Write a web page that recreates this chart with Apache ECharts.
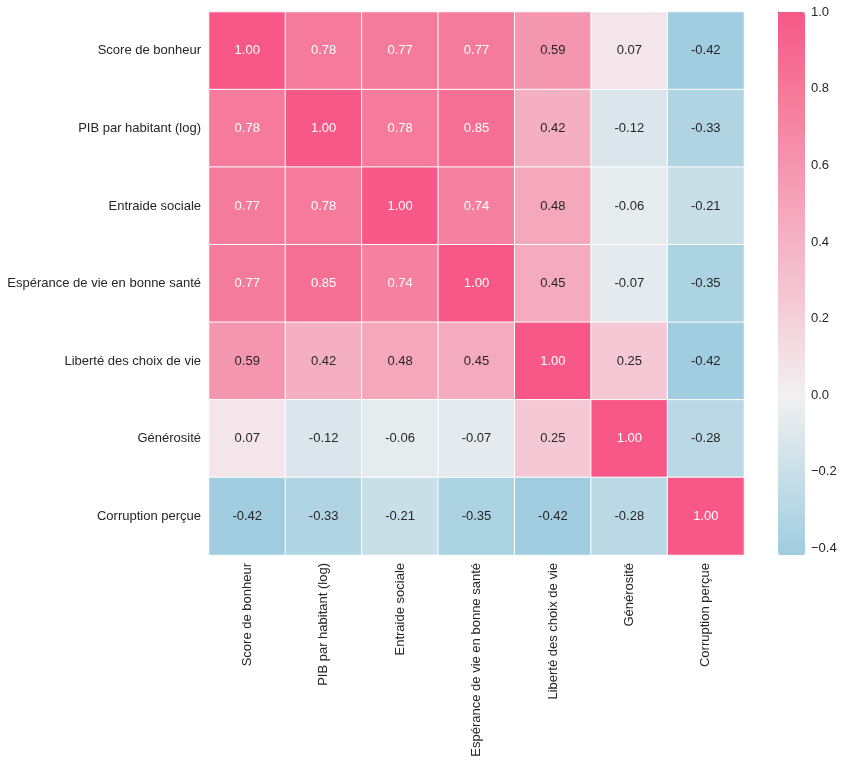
<!DOCTYPE html>
<html><head><meta charset="utf-8">
<script src="https://cdn.jsdelivr.net/npm/echarts@6/dist/echarts.min.js"></script>
<style>html,body{margin:0;padding:0;background:#fff}#c{width:844px;height:763px}</style>
</head><body><div id="c"></div>
<script>
const labels = ["Score de bonheur","PIB par habitant (log)","Entraide sociale","Espérance de vie en bonne santé","Liberté des choix de vie","Générosité","Corruption perçue"];
const rowScore = [1.00,0.78,0.77,0.77,0.59,0.07,-0.42];
const rowPIB = [0.78,1.00,0.78,0.85,0.42,-0.12,-0.33];
const rowEntraide = [0.77,0.78,1.00,0.74,0.48,-0.06,-0.21];
const rowEsperance = [0.77,0.85,0.74,1.00,0.45,-0.07,-0.35];
const rowLiberte = [0.59,0.42,0.48,0.45,1.00,0.25,-0.42];
const rowGenerosite = [0.07,-0.12,-0.06,-0.07,0.25,1.00,-0.28];
const rowCorruption = [-0.42,-0.33,-0.21,-0.35,-0.42,-0.28,1.00];
const colorbarTicks = [-0.4,-0.2,0.0,0.2,0.4,0.6,0.8,1.0];
const vmin = -0.417, vmax = 1.0;

const rows = [rowScore,rowPIB,rowEntraide,rowEsperance,rowLiberte,rowGenerosite,rowCorruption];

// colour anchors (value -> rgb)
const anchors = [[-0.42,[159,205,223]],[-0.21,[200,223,232]],[0,[242,240,241]],[0.25,[244,200,212]],[0.5,[245,164,186]],[0.78,[245,122,155]],[1.0,[247,88,135]]];
function colAt(v){
  for(let i=0;i<anchors.length-1;i++){
    const [a,ca]=anchors[i],[b,cb]=anchors[i+1];
    if(v<=b||i===anchors.length-2){
      let t=(v-a)/(b-a); t=Math.max(0,Math.min(1,t));
      const c=ca.map((x,k)=>Math.round(x+(cb[k]-x)*t));
      return 'rgb('+c.join(',')+')';
    }
  }
}
const stops=[];const N=120;
for(let i=0;i<=N;i++){stops.push(colAt(vmin+(vmax-vmin)*i/N));}

const data=[];
rows.forEach((r,yi)=>r.forEach((v,xi)=>{
  data.push({value:[xi,yi,v],label:{color:v>0.65?'#ffffff':'#262626'}});
}));

const chart = echarts.init(document.getElementById('c'));
const font = 'Liberation Sans, Arial, sans-serif';
chart.setOption({
  animation:false,
  backgroundColor:'#fff',
  grid:[{left:209,top:12,width:535,height:543},{left:778,top:12,width:27,height:543}],
  xAxis:[{type:'category',data:labels,gridIndex:0,
    axisLine:{show:false},axisTick:{show:false},
    axisLabel:{rotate:90,fontSize:13,color:'#262626',fontFamily:font,margin:8},splitLine:{show:false}},
    {type:'value',gridIndex:1,show:false,min:0,max:1}],
  yAxis:[{type:'category',data:labels,inverse:true,gridIndex:0,
    axisLine:{show:false},axisTick:{show:false},
    axisLabel:{fontSize:13,color:'#262626',fontFamily:font,margin:8},splitLine:{show:false}},
    {type:'value',gridIndex:1,position:'right',min:vmin,max:vmax,
     axisLine:{show:false},splitLine:{show:false},
     axisTick:{show:true,length:4,customValues:colorbarTicks,lineStyle:{color:'#262626'}},
     axisLabel:{fontSize:13,color:'#262626',fontFamily:font,margin:6,customValues:colorbarTicks,
       formatter:v=>(v<0?'\u2212':'')+Math.abs(v).toFixed(1)}}],
  visualMap:{type:'continuous',min:vmin,max:vmax,seriesIndex:0,calculable:false,show:true,
    left:778,top:12,itemWidth:27,itemHeight:543,padding:0,text:null,showLabel:false,
    hoverLink:false,inRange:{color:stops}},
  series:[{type:'heatmap',xAxisIndex:0,yAxisIndex:0,data:data,
    itemStyle:{borderColor:'#ffffff',borderWidth:1},
    label:{show:true,fontSize:13,fontFamily:font,formatter:p=>p.value[2].toFixed(2)},
    emphasis:{disabled:true}},
    {type:'line',xAxisIndex:1,yAxisIndex:1,data:[],silent:true}]
});
</script></body></html>
